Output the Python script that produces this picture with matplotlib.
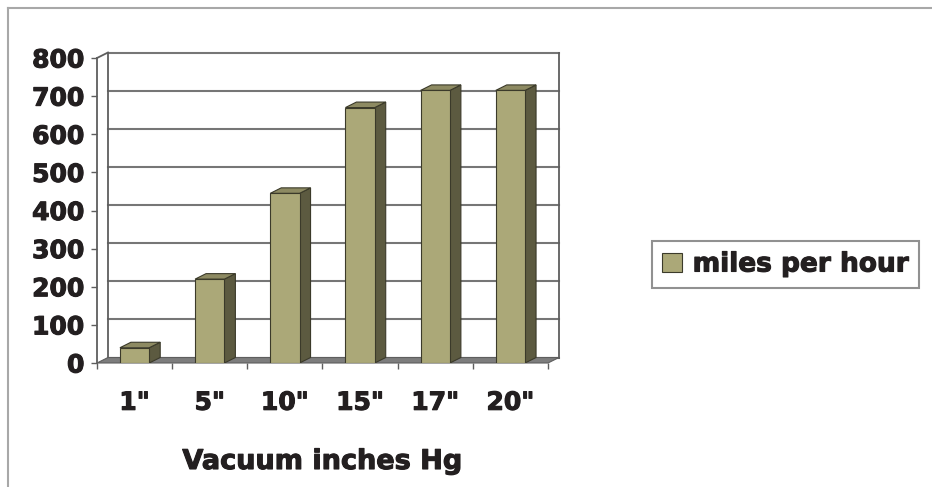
import matplotlib.pyplot as plt
import matplotlib.patheffects as pe
from matplotlib.patches import Polygon, Rectangle
from matplotlib.lines import Line2D

categories = ['1"', '5"', '10"', '15"', '17"', '20"']
mph = [40, 220, 445, 670, 715, 715]
y_ticks = [0, 100, 200, 300, 400, 500, 600, 700, 800]
series_name = 'miles per hour'
x_title = 'Vacuum inches Hg'

face = '#aba878'
side = '#5c5a40'
top = '#8d8a62'
edge = '#3b3a2a'
grid_c = '#767676'
ink = '#231f20'

plt.rcParams['font.family'] = 'DejaVu Sans'
plt.rcParams['font.weight'] = 'bold'
plt.rcParams['axes.labelweight'] = 'bold'

# thicken the bold glyphs a bit, the original font is heavier
heavy = [pe.withStroke(linewidth=0.8, foreground=ink)]

W, H = 932, 487
fig = plt.figure(figsize=(W / 100, H / 100), dpi=100)
ax = fig.add_axes([97 / W, 1 - 363 / H, 451 / W, 305 / H])
ax.set_xlim(-0.5, len(categories) - 0.5)
ax.set_ylim(y_ticks[0], y_ticks[-1])
x0, x1 = ax.get_xlim()
ytop = y_ticks[-1]

# depth of the fake 3d box, in data units
dx, dy = 0.146, 14.4
bw = 0.39

# floor
ax.add_patch(Polygon([(x0, 0), (x1, 0), (x1 + dx, dy), (x0 + dx, dy)],
                     closed=True, fc='#7d7d7d', ec='#5e5e5e', lw=0.8,
                     clip_on=False, zorder=1))

# back wall gridlines and edges
for v in y_ticks:
    ax.plot([x0 + dx, x1 + dx], [v + dy, v + dy], color=grid_c, lw=1.5,
            clip_on=False, zorder=0)
for xx in (x0 + dx, x1 + dx):
    ax.plot([xx, xx], [dy, ytop + dy], color='#5e5e5e', lw=1.3,
            clip_on=False, zorder=0)
ax.plot([x0, x0 + dx], [ytop, ytop + dy], color='#5e5e5e', lw=1.3,
        clip_on=False, zorder=0)

# bars
for i, v in enumerate(mph):
    l, r = i - bw / 2, i + bw / 2
    ax.add_patch(Polygon([(r, 0), (r + dx, dy), (r + dx, v + dy), (r, v)],
                         closed=True, fc=side, ec=edge, lw=0.8, zorder=3))
    ax.add_patch(Polygon([(l, v), (r, v), (r + dx, v + dy), (l + dx, v + dy)],
                         closed=True, fc=top, ec=edge, lw=0.8, zorder=3))
    ax.add_patch(Rectangle((l, 0), bw, v, fc=face, ec=edge, lw=0.8,
                           zorder=4))

for s in ('top', 'right', 'bottom'):
    ax.spines[s].set_visible(False)
ax.spines['left'].set_color('#5e5e5e')
ax.spines['left'].set_linewidth(1.3)

ax.set_yticks(y_ticks)
ax.set_yticklabels([str(v) for v in y_ticks])
ax.tick_params(axis='y', length=4, width=1, color='#5e5e5e', pad=5,
               labelsize=18, labelcolor=ink)

ax.set_xticks(range(len(categories)))
ax.set_xticklabels(categories)
ax.set_xticks([i - 0.5 for i in range(len(categories) + 1)], minor=True)
ax.tick_params(axis='x', which='major', length=0, pad=20, labelsize=18,
               labelcolor=ink)
ax.tick_params(axis='x', which='minor', length=4, width=1, color='#5e5e5e')

ax.set_xlabel(x_title, fontsize=19.5, color=ink, va='center')
ax.xaxis.set_label_coords(0.5, -(462 - 363) / 305)

handle = Rectangle((0, 0), 1, 1, fc=face, ec=edge, lw=0.8)
leg = fig.legend([handle], [series_name], loc='center',
                 bbox_to_anchor=(785.5 / W, 1 - 264.5 / H), fontsize=19,
                 frameon=True, fancybox=False, handlelength=0.75,
                 handleheight=0.75, handletextpad=0.4, borderpad=0.4,
                 borderaxespad=0)
leg.get_frame().set_edgecolor('#767676')
leg.get_frame().set_linewidth(1.5)
for t in leg.get_texts():
    t.set_color(ink)

for t in (ax.get_xticklabels() + ax.get_yticklabels()
          + [ax.xaxis.label] + leg.get_texts()):
    t.set_path_effects(heavy)

# outer frame, left and top only
fig.add_artist(Line2D([8 / W, 8 / W], [0, 1 - 8 / H], transform=fig.transFigure,
                      color='#a8a8a8', lw=1.5))
fig.add_artist(Line2D([8 / W, 1], [1 - 8 / H, 1 - 8 / H],
                      transform=fig.transFigure, color='#a8a8a8', lw=1.5))

fig.savefig('out.png', dpi=100)
